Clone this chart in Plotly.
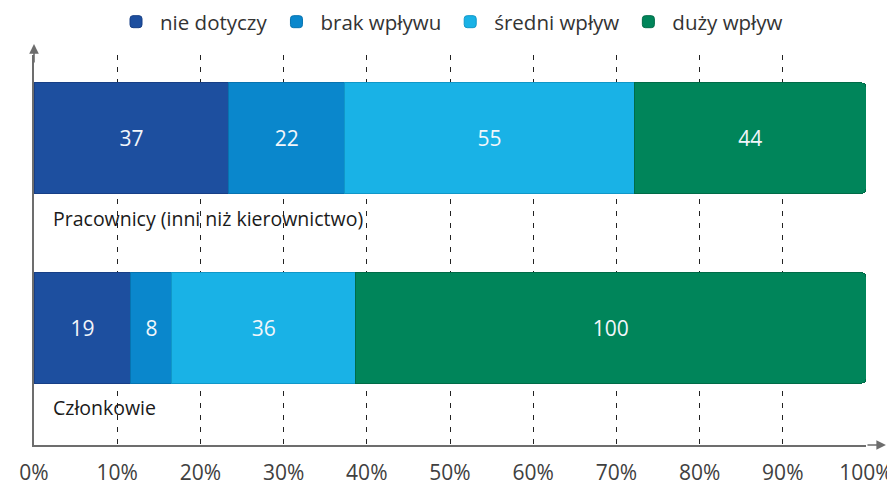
import plotly.graph_objects as go

groups = ["Członkowie", "Pracownicy (inni niż kierownictwo)"]
series = ["nie dotyczy", "brak wpływu", "średni wpływ", "duży wpływ"]
values = {
    "nie dotyczy": [19, 37],
    "brak wpływu": [8, 22],
    "średni wpływ": [36, 55],
    "duży wpływ": [100, 44],
}
colors = ["#1d4f9f", "#0a87cc", "#19b2e6", "#00855a"]
edges = ["#173f86", "#0773b0", "#1097c8", "#006b47"]
ticks = [0, 10, 20, 30, 40, 50, 60, 70, 80, 90, 100]

fig = go.Figure()
for name, col, edge in zip(series, colors, edges):
    fig.add_trace(go.Bar(
        y=groups, x=values[name], name=name, orientation="h",
        marker=dict(color=col, line=dict(color=edge, width=1)),
        text=values[name], textposition="inside", insidetextanchor="middle",
        textfont=dict(color="#f2f6fa", size=21), width=0.58,
    ))

# category labels under each bar
for g in groups:
    fig.add_annotation(x=0, y=g, xref="x", yref="y", text=g, showarrow=False,
                       xanchor="left", yanchor="middle", xshift=17, yshift=-80,
                       font=dict(size=19.5, color="#1a1a1a"))

# axis arrows
fig.add_annotation(x=1.024, y=0, xref="paper", yref="paper", ax=-20, ay=0,
                   text="", showarrow=True, arrowhead=2, arrowsize=1.2,
                   arrowwidth=1.6, arrowcolor="#6d6d6d")
fig.add_annotation(x=0, y=1.028, xref="paper", yref="paper", ax=0, ay=20,
                   text="", showarrow=True, arrowhead=2, arrowsize=1.2,
                   arrowwidth=1.6, arrowcolor="#6d6d6d")

# page body adds an 8px margin, so the figure is 8px smaller
fig.update_layout(
    barmode="stack", barnorm="percent", barcornerradius=4,
    width=887, height=483,
    margin=dict(l=26, r=29, t=47, b=46, autoexpand=False),
    plot_bgcolor="white", paper_bgcolor="white",
    font=dict(family="Open Sans", color="#404040"),
    legend=dict(orientation="h", x=0.5, xanchor="center", y=1.085, yanchor="middle",
                font=dict(size=20.5, color="#333333"), traceorder="normal",
                itemwidth=38),
    showlegend=True,
)
fig.update_xaxes(range=[0, 100], tickvals=ticks, ticktext=[f"{t}%" for t in ticks],
                 showgrid=True, gridcolor="#222222", griddash="5px,7px", gridwidth=1,
                 showline=True, linecolor="#6d6d6d", linewidth=1.5, zeroline=False,
                 tickfont=dict(size=21, color="#404040"), ticks="", ticklabelstandoff=8,
                 fixedrange=True)
fig.update_yaxes(range=[-0.616, 1.437], showticklabels=False, showgrid=False,
                 showline=True, linecolor="#6d6d6d", linewidth=1.5, zeroline=False,
                 fixedrange=True)

fig.write_html("out.html")
